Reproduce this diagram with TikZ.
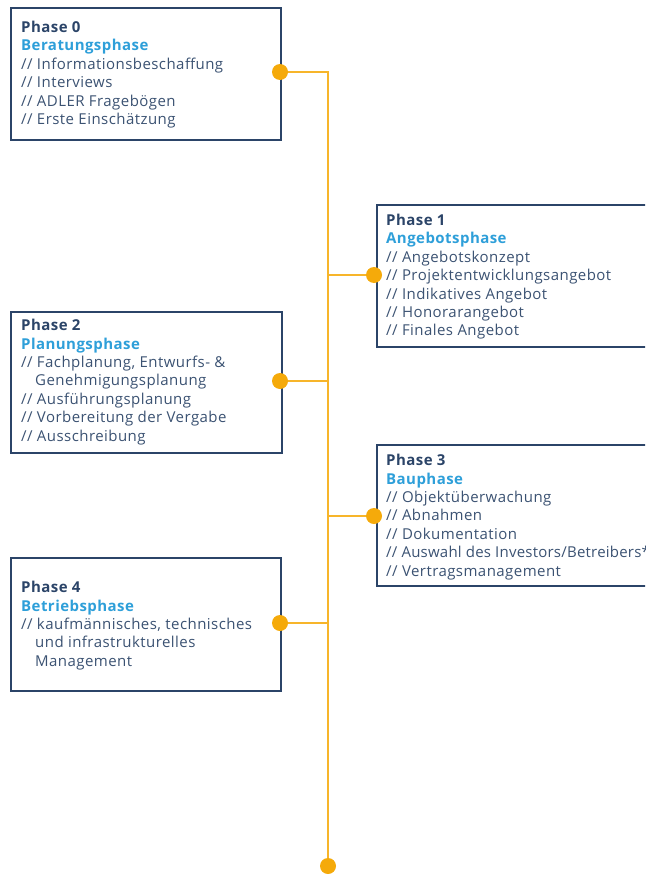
\documentclass[tikz,border=0pt]{standalone}
\usepackage{fontspec}
\setmainfont[LetterSpace=3]{Open Sans}
\usetikzlibrary{backgrounds}
\definecolor{navy}{HTML}{2B4468}
\definecolor{txtc}{HTML}{3B5272}
\definecolor{lblue}{HTML}{2E9FD9}
\definecolor{orng}{HTML}{F5AA0A}
\definecolor{oline}{HTML}{F7B52A}
\begin{document}
\begin{tikzpicture}[x=1pt,y=-1pt,
  box/.style={draw=navy, line width=1.7pt, anchor=north west, inner sep=0pt},
  txt/.style={anchor=north west, inner sep=0pt, align=left, text=txtc,
    font=\fontsize{15}{18.4}\selectfont},
  dot/.style={circle, fill=orng, minimum size=16pt, inner sep=0pt},
  conn/.style={draw=oline, line width=2pt}]
\useasboundingbox (0,0) rectangle (645,875);
\clip (0,0) rectangle (645,875);
% boxes
\node[box, minimum width=270pt, minimum height=132pt] (b0) at (10,7) {};
\node[box, minimum width=290pt, minimum height=142pt] (b1) at (376,204) {};
\node[box, minimum width=271pt, minimum height=141pt] (b2) at (10,311) {};
\node[box, minimum width=290pt, minimum height=141pt] (b3) at (376,444) {};
\node[box, minimum width=270pt, minimum height=133pt] (b4) at (10,557) {};
% texts
\node[txt] (t0) at (21,21) {{\color{navy}\bfseries Phase 0}\\{\color{lblue}\bfseries Beratungsphase}\\// Informationsbeschaffung\\// Interviews\\// ADLER Fragebögen\\// Erste Einschätzung};
\node[txt] (t1) at (386,214) {{\color{navy}\bfseries Phase 1}\\{\color{lblue}\bfseries Angebotsphase}\\// Angebotskonzept\\// Projektentwicklungsangebot\\// Indikatives Angebot\\// Honorarangebot\\// Finales Angebot};
\node[txt] (t2) at (21,319) {{\color{navy}\bfseries Phase 2}\\{\color{lblue}\bfseries Planungsphase}\\// Fachplanung, Entwurfs- \&\\\hspace*{14pt}Genehmigungsplanung\\// Ausführungsplanung\\// Vorbereitung der Vergabe\\// Ausschreibung};
\node[txt] (t3) at (386,454) {{\color{navy}\bfseries Phase 3}\\{\color{lblue}\bfseries Bauphase}\\// Objektüberwachung\\// Abnahmen\\// Dokumentation\\{\addfontfeature{LetterSpace=1.5}// Auswahl des Investors/Betreibers*}\\// Vertragsmanagement};
\node[txt] (t4) at (21,581) {{\color{navy}\bfseries Phase 4}\\{\color{lblue}\bfseries Betriebsphase}\\// kaufmännisches, technisches\\\hspace*{14pt}und infrastrukturelles\\\hspace*{14pt}Management};
% dots
\node[dot] (d0) at (280,72) {};
\node[dot] (d1) at (374,275) {};
\node[dot] (d2) at (280,381) {};
\node[dot] (d3) at (374,516) {};
\node[dot] (d4) at (280,623) {};
\node[dot] (dend) at (328,866) {};
\coordinate (s0) at (328,72);
\coordinate (s1) at (328,275);
\coordinate (s2) at (328,381);
\coordinate (s3) at (328,516);
\coordinate (s4) at (328,623);
\begin{scope}[on background layer]
\draw[conn] (d0.center) -- (s0) -- (dend.center);
\draw[conn] (d1.center) -- (s1);
\draw[conn] (d2.center) -- (s2);
\draw[conn] (d3.center) -- (s3);
\draw[conn] (d4.center) -- (s4);
\end{scope}
\end{tikzpicture}
\end{document}
